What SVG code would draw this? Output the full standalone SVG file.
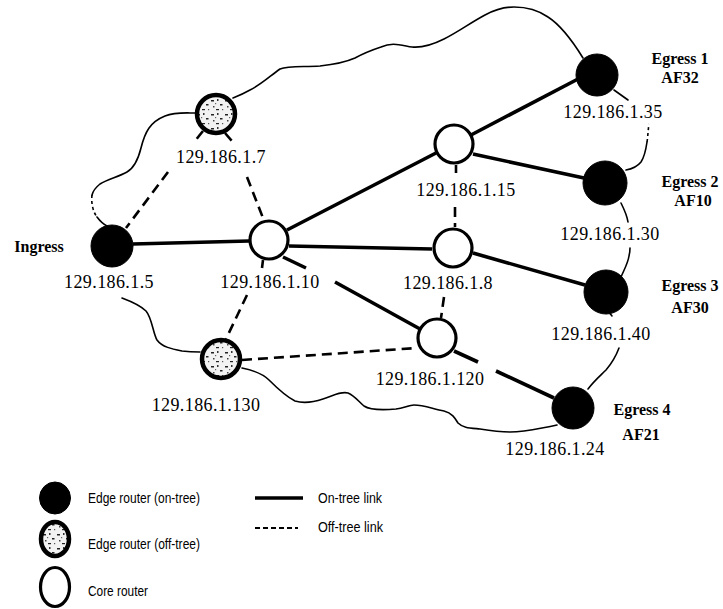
<svg xmlns="http://www.w3.org/2000/svg" width="723" height="609" viewBox="0 0 723 609">
  <defs>
    <!-- grainy texture used for off-tree edge routers -->
    <pattern id="speckle" width="14" height="14" patternUnits="userSpaceOnUse">
      <rect width="14" height="14" fill="#f2f2f2"/>
      <rect x="1" y="2" width="3" height="1.5" fill="#222"/>
      <rect x="7" y="1" width="1.5" height="2" fill="#333"/>
      <rect x="10" y="6" width="2.5" height="1.5" fill="#222"/>
      <rect x="3" y="8" width="1.5" height="1.5" fill="#444"/>
      <rect x="6" y="11" width="3" height="1.2" fill="#222"/>
      <rect x="12" y="11" width="1.2" height="1.2" fill="#555"/>
      <rect x="5" y="5" width="1.2" height="1.2" fill="#666"/>
    </pattern>
  </defs>
  <style>
    .bg { fill: #ffffff; }
    .cloud { fill: none; stroke: #000; stroke-width: 1.6; stroke-linecap: round; stroke-linejoin: round; }
    .cloud-dot { fill: none; stroke: #000; stroke-width: 1.6; stroke-dasharray: 3 3; }
    .on { stroke: #000; stroke-width: 3.6; stroke-linecap: butt; fill: none; }
    .off { stroke: #000; stroke-width: 2.6; stroke-dasharray: 10 6; fill: none; }
    .edge-on { fill: #000; stroke: #000; stroke-width: 1; }
    .edge-off { fill: url(#speckle); stroke: #000; stroke-width: 4.5; }
    .core { fill: #fff; stroke: #000; stroke-width: 3.2; }
    .ip { font-family: "Liberation Serif", "Times New Roman", serif; font-size: 18px; letter-spacing: 0.4px; fill: #000; text-anchor: middle; }
    .name { font-family: "Liberation Serif", "Times New Roman", serif; font-size: 16px; font-weight: bold; fill: #000; text-anchor: middle; }
    .legend { font-family: "Liberation Sans", Arial, sans-serif; font-size: 15px; fill: #000; }
  </style>

  <rect class="bg" width="723" height="609"/>

  <!-- network boundary (cloud outline) -->
  <g id="cloud">
    <path class="cloud" d="M583,58 C575,45 562,26 548,17 C538,10 528,7 514,7 C504,7 496,9 485,15 C470,23 458,32 444,39 C432,45 422,48 412,47 C400,45 392,42 381,47 C372,50 366,52 355,58 C346,62 338,64 320,66 C300,67 288,66 280,69 C270,76 262,84 250,90 C243,94 238,96 233,98"/>
    <path class="cloud" d="M195,113 C185,113 175,112 165,116 C150,122 145,132 141,148 C138,160 134,168 127,172 C118,177 108,179 100,184 C95,188 93,191 92,195"/>
    <path class="cloud-dot" d="M92,195 C91,203 93,212 97,217"/>
    <path class="cloud" d="M97,217 C100,221 103,224 107,226"/>
    <path class="cloud" d="M122,298 C130,301 140,305 146,311 C152,318 153,333 157,340 C162,347 172,349 182,351 C190,352 195,352 200,352"/>
    <path class="cloud" d="M242,368 C252,370 262,373 269,380 C276,387 285,396 295,401 C305,404 314,402 323,399 C333,396 340,391 348,393 C355,396 359,402 364,406 C370,410 385,410 396,409 C404,408 409,405 414,405 C424,405 433,409 444,411 C452,413 455,418 458,423 C463,428 470,428 480,429 C492,431 500,432 510,432 C522,432 532,430 542,428 C548,427 553,426 557,425"/>
    <path class="cloud" d="M588,389 C594,381 600,376 606,370 C612,363 616,356 619,348"/>
    <path class="cloud" d="M608,311 L612,316"/>
    <path class="cloud" d="M621,277 C624,270 628,263 629,256 C630,252 630,250 630,248"/>
    <path class="cloud" d="M621,203 C624,209 627,215 628,222"/>
    <path class="cloud" d="M626,170 C632,169 637,167 641,162 C645,156 646,149 647,142"/>
    <path class="cloud-dot" d="M647,142 C648,136 648,130 649,124"/>
    <path class="cloud" d="M614,90 L628,100"/>
  </g>

  <!-- links -->
  <g id="connectors">
    <!-- on-tree links -->
    <line class="on" x1="133" y1="244" x2="249" y2="241"/>
    <line class="on" x1="287" y1="230" x2="436" y2="153"/>
    <line class="on" x1="471" y1="135" x2="578" y2="79"/>
    <line class="on" x1="473" y1="154" x2="584" y2="178"/>
    <line class="on" x1="289" y1="246" x2="432" y2="249"/>
    <line class="on" x1="473" y1="253" x2="585" y2="285"/>
    <line class="on" x1="283" y1="257" x2="306" y2="268"/>
    <line class="on" x1="335" y1="282" x2="420" y2="329"/>
    <line class="on" x1="454" y1="351" x2="478" y2="362"/>
    <line class="on" x1="496" y1="371" x2="554" y2="398"/>
    <!-- off-tree links -->
    <line class="off" x1="203" y1="131" x2="195" y2="141"/>
    <line class="off" x1="168" y1="172" x2="126" y2="228"/>
    <line class="off" x1="225" y1="133" x2="232" y2="141"/>
    <line class="off" x1="247" y1="177" x2="263" y2="218"/>
    <line class="off" x1="263" y1="260" x2="262" y2="268"/>
    <line class="off" x1="247" y1="295" x2="226" y2="339"/>
    <line class="off" x1="242" y1="360" x2="417" y2="348"/>
    <line class="off" x1="456" y1="165" x2="456" y2="173"/>
    <line class="off" x1="455" y1="207" x2="455" y2="227"/>
    <line class="off" x1="444" y1="297" x2="441" y2="318"/>
  </g>

  <!-- routers -->
  <g id="ingress">
    <circle class="edge-on" cx="112" cy="246" r="21"/>
    <text class="name" x="39" y="252">Ingress</text>
    <text class="ip" x="109" y="288">129.186.1.5</text>
  </g>
  <g id="r7">
    <circle class="edge-off" cx="216" cy="114" r="19"/>
    <text class="ip" x="221" y="163">129.186.1.7</text>
  </g>
  <g id="r10">
    <circle class="core" cx="269" cy="240" r="19"/>
    <text class="ip" x="270" y="288">129.186.1.10</text>
  </g>
  <g id="r15">
    <circle class="core" cx="454" cy="144" r="19"/>
    <text class="ip" x="466" y="196">129.186.1.15</text>
  </g>
  <g id="r8">
    <circle class="core" cx="453" cy="248" r="19"/>
    <text class="ip" x="448" y="289">129.186.1.8</text>
  </g>
  <g id="r120">
    <circle class="core" cx="437" cy="338" r="19"/>
    <text class="ip" x="430" y="385">129.186.1.120</text>
  </g>
  <g id="r130">
    <circle class="edge-off" cx="221" cy="359" r="19"/>
    <text class="ip" x="206" y="411">129.186.1.130</text>
  </g>
  <g id="egress1">
    <circle class="edge-on" cx="597" cy="75" r="21"/>
    <text class="name" x="680" y="64">Egress 1</text>
    <text class="name" x="680" y="83">AF32</text>
    <text class="ip" x="613" y="118">129.186.1.35</text>
  </g>
  <g id="egress2">
    <circle class="edge-on" cx="605" cy="183" r="22"/>
    <text class="name" x="690" y="187">Egress 2</text>
    <text class="name" x="693" y="206">AF10</text>
    <text class="ip" x="610" y="240">129.186.1.30</text>
  </g>
  <g id="egress3">
    <circle class="edge-on" cx="606" cy="292" r="22"/>
    <text class="name" x="690" y="291">Egress 3</text>
    <text class="name" x="690" y="313">AF30</text>
    <text class="ip" x="601" y="340">129.186.1.40</text>
  </g>
  <g id="egress4">
    <circle class="edge-on" cx="573" cy="408" r="21"/>
    <text class="name" x="642" y="415">Egress 4</text>
    <text class="name" x="641" y="440">AF21</text>
    <text class="ip" x="555" y="455">129.186.1.24</text>
  </g>

  <!-- legend -->
  <g id="legend">
    <ellipse class="edge-on" cx="55" cy="498" rx="15.5" ry="16"/>
    <text class="legend" x="88" y="503" textLength="112" lengthAdjust="spacingAndGlyphs">Edge router (on-tree)</text>
    <ellipse class="edge-off" cx="55" cy="539" rx="14" ry="17"/>
    <text class="legend" x="88" y="549" textLength="112" lengthAdjust="spacingAndGlyphs">Edge router (off-tree)</text>
    <ellipse class="core" cx="55" cy="587" rx="14.5" ry="19.5"/>
    <text class="legend" x="88" y="596" textLength="60" lengthAdjust="spacingAndGlyphs">Core router</text>
    <line class="on" x1="255" y1="498" x2="303" y2="498"/>
    <text class="legend" x="318" y="503" textLength="64" lengthAdjust="spacingAndGlyphs">On-tree link</text>
    <line stroke="#000" stroke-width="2" stroke-dasharray="5 3" x1="255" y1="528" x2="298" y2="528"/>
    <text class="legend" x="318" y="532" textLength="65" lengthAdjust="spacingAndGlyphs">Off-tree link</text>
  </g>
</svg>
